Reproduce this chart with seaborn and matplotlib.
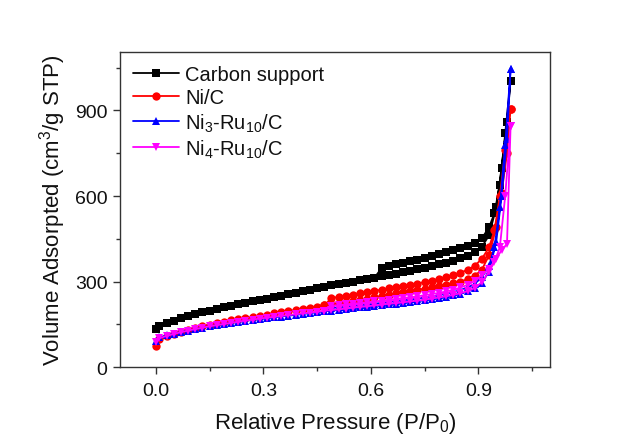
import numpy as np
import pandas as pd
import matplotlib
matplotlib.use("Agg")
import matplotlib.pyplot as plt
import seaborn as sns
from matplotlib.ticker import MultipleLocator

sns.set_style("ticks")
plt.rcParams['font.family'] = ['Liberation Sans', 'DejaVu Sans']
plt.rcParams['mathtext.fontset'] = 'custom'
plt.rcParams['mathtext.rm'] = 'Liberation Sans'
plt.rcParams['mathtext.it'] = 'Liberation Sans:italic'
plt.rcParams['mathtext.bf'] = 'Liberation Sans:bold'

# ---- data ----
labels = ["Carbon support", "Ni/C", "Ni$_3$-Ru$_{10}$/C", "Ni$_4$-Ru$_{10}$/C"]
colors = ["black", "#ff0000", "#0000ff", "#ff00ff"]
markers = ["s", "o", "^", "v"]

p_ads = [0.001, 0.01, 0.03, 0.05, 0.07, 0.09, 0.11, 0.13, 0.15, 0.17, 0.19,
         0.21, 0.23, 0.25, 0.27, 0.29, 0.31, 0.33, 0.35, 0.37, 0.39, 0.41,
         0.43, 0.45, 0.47, 0.49, 0.51, 0.53, 0.55, 0.57, 0.59, 0.61, 0.63,
         0.65, 0.67, 0.69, 0.71, 0.73, 0.75, 0.77, 0.79, 0.81, 0.83, 0.85,
         0.87, 0.89, 0.91, 0.93, 0.95, 0.965, 0.98, 0.99]

carbon_ads = [135, 145, 155, 163, 172, 179, 186, 192, 198, 204, 210,
              215, 220, 225, 230, 235, 240, 245, 250, 255, 260, 265,
              270, 276, 281, 286, 291, 296, 300, 304, 308, 313, 318,
              323, 328, 333, 338, 343, 348, 354, 360, 366, 373, 381,
              391, 403, 422, 462, 560, 700, 860, 1005]
nic_ads = [72, 98, 108, 116, 124, 131, 137, 143, 149, 154, 159,
           164, 168, 172, 176, 180, 184, 188, 192, 196, 200, 204,
           208, 212, 216, 220, 224, 228, 232, 236, 240, 245, 249,
           254, 258, 263, 267, 271, 275, 279, 283, 288, 294, 300,
           308, 320, 342, 392, 490, 610, 750, 905]
ni3_ads = [92, 104, 111, 117, 123, 128, 133, 138, 143, 147, 151,
           155, 158, 162, 165, 168, 171, 174, 177, 180, 183, 186,
           189, 192, 195, 198, 200, 203, 206, 209, 211, 214, 217,
           220, 222, 225, 228, 231, 234, 238, 242, 246, 251, 257,
           265, 276, 296, 335, 440, 600, 800, 1045]
ni4_ads = [88, 101, 109, 116, 122, 128, 133, 138, 143, 147, 151,
           155, 159, 163, 166, 170, 173, 176, 179, 182, 185, 188,
           191, 194, 197, 200, 202, 205, 208, 211, 213, 216, 219,
           222, 224, 227, 230, 233, 236, 240, 244, 248, 253, 259,
           266, 277, 298, 335, 380, 410, 432, 845]

p_des = [0.99, 0.975, 0.96, 0.945, 0.93, 0.91, 0.89, 0.87, 0.85, 0.83,
         0.81, 0.79, 0.77, 0.75, 0.73, 0.71, 0.69, 0.67, 0.65, 0.63,
         0.61, 0.59, 0.57, 0.55, 0.53, 0.51, 0.49, 0.47]

carbon_des = [1005, 820, 640, 540, 490, 452, 436, 426, 418, 411,
              404, 396, 389, 383, 377, 371, 366, 360, 354, 347,
              313]
nic_des = [905, 760, 600, 480, 420, 380, 355, 341, 331, 322,
           315, 309, 303, 298, 293, 289, 285, 280, 276, 271,
           267, 262, 258, 254, 250, 246, 242, 216]
ni3_des = [1045, 780, 560, 420, 355, 315, 292, 279, 270, 263,
           257, 252, 248, 244, 240, 237, 234, 231, 228, 225,
           222, 219, 217, 214, 212, 209, 207, 195]
ni4_des = [845, 600, 420, 370, 345, 322, 302, 288, 279, 271,
           265, 260, 256, 252, 248, 245, 242, 239, 236, 233,
           230, 227, 225, 222, 220, 217, 215, 197]

ads_list = [carbon_ads, nic_ads, ni3_ads, ni4_ads]
des_list = [carbon_des, nic_des, ni3_des, ni4_des]

# ---- plot ----
fig = plt.figure(figsize=(6.25, 4.35), dpi=100)
ax = fig.add_axes([0.192, 0.154, 0.688, 0.724])

for lab, col, mk, ads, des in zip(labels, colors, markers, ads_list, des_list):
    x = list(p_ads) + list(p_des[:len(des)])
    y = list(ads) + list(des)
    df = pd.DataFrame({"x": x, "y": y})
    sns.lineplot(data=df, x="x", y="y", sort=False, estimator=None, ax=ax,
                 color=col, marker=mk, markersize=6, markeredgewidth=0,
                 linewidth=1.3, label=lab)

ax.set_xlim(-0.1, 1.1)
ax.set_ylim(0, 1105)
ax.xaxis.set_major_locator(MultipleLocator(0.3))
ax.xaxis.set_minor_locator(MultipleLocator(0.15))
ax.yaxis.set_major_locator(MultipleLocator(300))
ax.yaxis.set_minor_locator(MultipleLocator(150))
ax.set_xticks([0.0, 0.3, 0.6, 0.9])
ax.set_xticklabels(["0.0", "0.3", "0.6", "0.9"])
ax.tick_params(axis="both", which="major", direction="out", length=5,
               width=1, labelsize=14, colors="#333333", labelcolor="#111111")
ax.tick_params(axis="x", which="major", pad=6)
ax.tick_params(axis="y", which="major", pad=4)
ax.tick_params(axis="both", which="minor", direction="out", length=3,
               width=1, colors="#333333")
for s in ax.spines.values():
    s.set_visible(True)
    s.set_color("#333333")
    s.set_linewidth(1.0)

ax.set_xlabel("Relative Pressure (P/P$_0$)", fontsize=16, labelpad=8,
              color="#111111")
ax.set_ylabel("Volume Adsorpted (cm$^3$/g STP)", fontsize=16, labelpad=5,
              color="#111111")

leg = ax.legend(loc="upper left", frameon=False, fontsize=14.5,
                handlelength=2.3, handletextpad=0.3, labelspacing=0.2,
                borderaxespad=0.25, bbox_to_anchor=(0.0, 1.0))
for t in leg.get_texts():
    t.set_color("#111111")

fig.savefig("out.png", dpi=100, facecolor="white")
